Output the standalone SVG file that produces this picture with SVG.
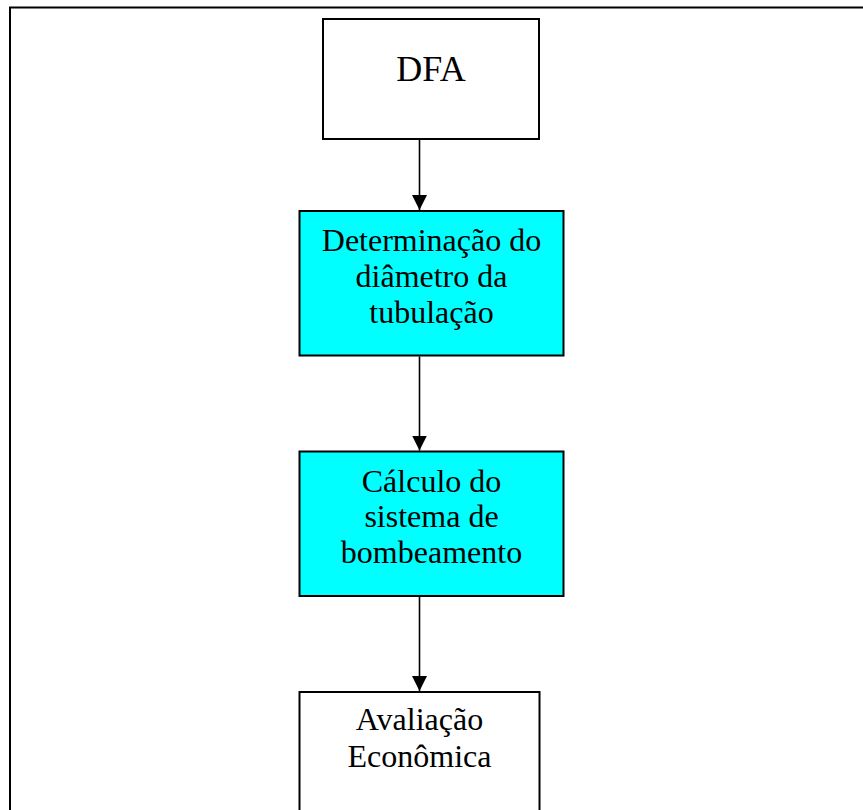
<svg xmlns="http://www.w3.org/2000/svg" width="863" height="810" viewBox="0 0 863 810">
<defs>
<style>
.box{stroke:#000;stroke-width:2}
.w{fill:#fff}
.c{fill:#00ffff}
.t{font-family:"Liberation Serif","Times New Roman",serif;font-size:32px;fill:#000;text-anchor:middle}
.conn{stroke:#000;stroke-width:1.6;fill:none}
</style>
<marker id="ah" markerUnits="userSpaceOnUse" markerWidth="16" markerHeight="16" viewBox="0 0 16 16" refX="15" refY="8" orient="auto">
<path d="M0,0.5 L15,8 L0,15.5 Z" fill="#000"/>
</marker>
</defs>
<rect x="0" y="0" width="863" height="810" fill="#fff"/>
<rect id="frame" x="10" y="7.5" width="880" height="815" fill="none" stroke="#000" stroke-width="2"/>
<g id="n1">
<rect class="box w" x="323" y="19" width="216" height="120"/>
<text class="t" x="431" y="81" style="font-size:36px">DFA</text>
</g>
<g id="n2">
<rect class="box c" x="299.5" y="211" width="264" height="144.5"/>
<text class="t" x="431.5" y="250.5">Determinação do</text>
<text class="t" x="431.5" y="286.5">diâmetro da</text>
<text class="t" x="431.5" y="322.5">tubulação</text>
</g>
<g id="n3">
<rect class="box c" x="299.5" y="451.5" width="264" height="144.5"/>
<text class="t" x="431.5" y="491.5">Cálculo do</text>
<text class="t" x="431.5" y="527">sistema de</text>
<text class="t" x="431.5" y="563">bombeamento</text>
</g>
<g id="n4">
<rect class="box w" x="299.5" y="692" width="240" height="140"/>
<text class="t" x="419.5" y="730">Avaliação</text>
<text class="t" x="419.5" y="766.5">Econômica</text>
</g>
<g id="connectors">
<line class="conn" x1="419.5" y1="140" x2="419.5" y2="210" marker-end="url(#ah)"/>
<line class="conn" x1="419.5" y1="356.5" x2="419.5" y2="450.5" marker-end="url(#ah)"/>
<line class="conn" x1="419.5" y1="597" x2="419.5" y2="691" marker-end="url(#ah)"/>
</g>
</svg>
